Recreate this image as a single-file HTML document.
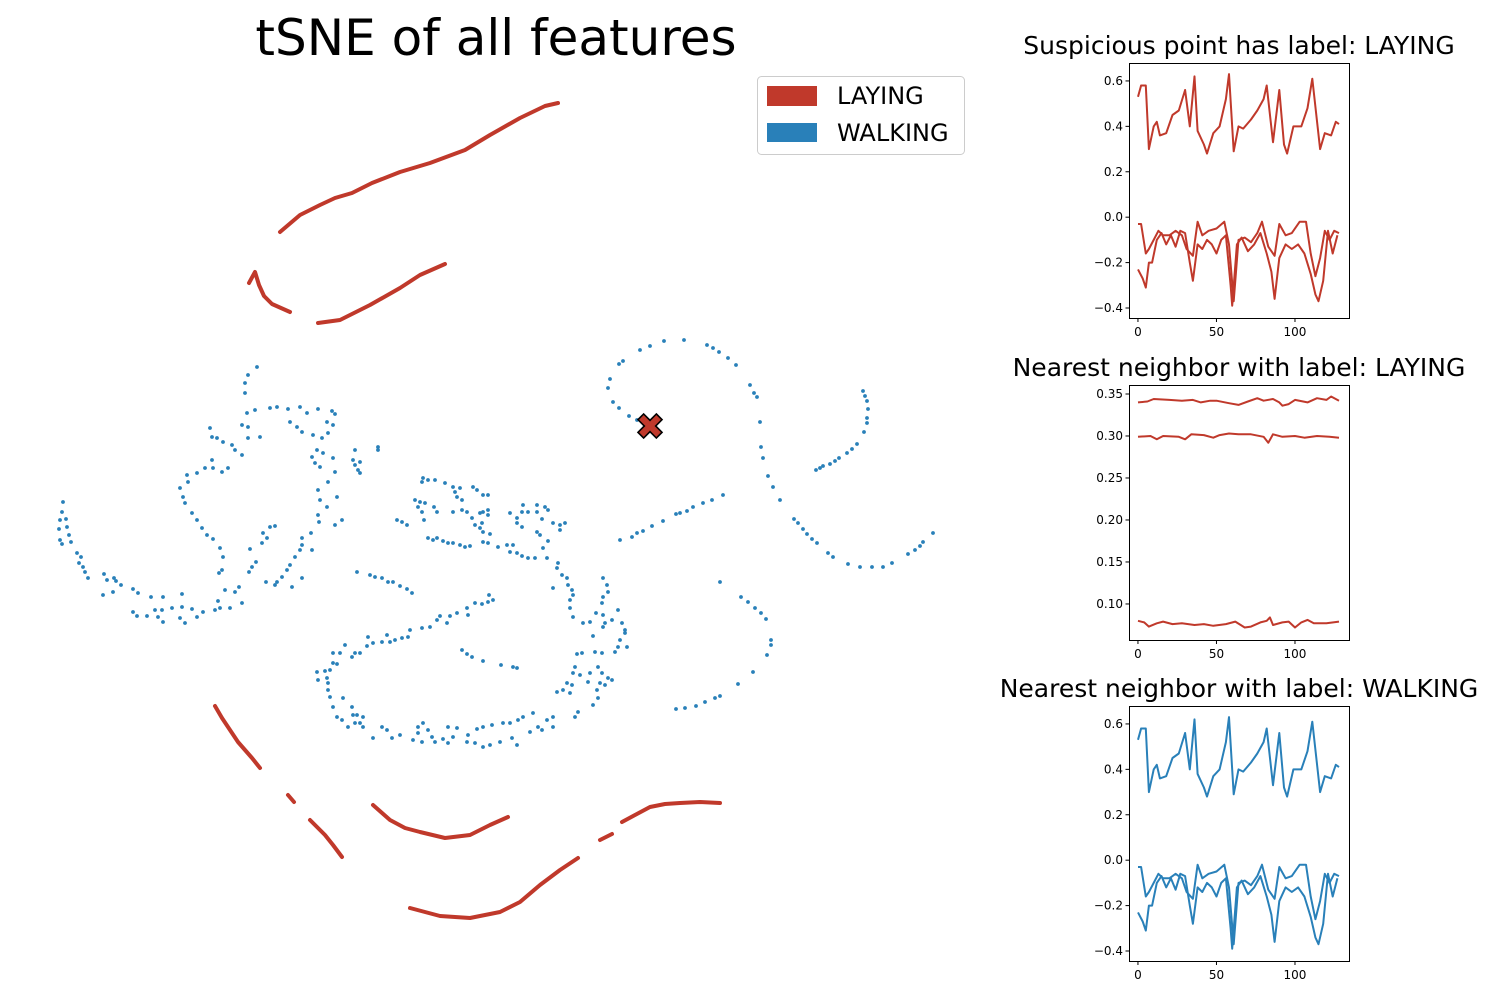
<!DOCTYPE html>
<html><head><meta charset="utf-8"><style>
body{margin:0;background:#fff;}
svg{display:block;font-family:"DejaVu Sans","Liberation Sans",sans-serif;}
</style></head><body>
<svg id="fig" width="1500" height="1000" xmlns="http://www.w3.org/2000/svg">
<rect width="1500" height="1000" fill="#fff"/>
<text x="496" y="55" font-size="50" text-anchor="middle">tSNE of all features</text>
<g id="scatter"></g>
<g>
<rect x="757.5" y="76.5" width="207" height="78" rx="4" fill="#fff" stroke="#ccc"/>
<rect x="767" y="86" width="50" height="20" fill="#c0392b"/>
<text x="837" y="104" font-size="24">LAYING</text>
<rect x="767" y="123" width="50" height="19" fill="#2980b9"/>
<text x="837" y="141" font-size="24">WALKING</text>
</g>
<g id="panels"></g>
</svg>
<script>
// ---------- tSNE data (embedding units) ----------
const walkX = [257,248,245,245,247,255,270,277,288,300,307,318,332,335,242,248,290,297,302,327,333,328,313,322,248,260,
210,212,217,223,232,235,242,212,213,222,228,205,197,187,188,180,183,185,192,197,202,207,213,220,223,222,219,
317,323,312,333,315,320,335,328,318,320,327,337,318,319,335,342,311,302,302,300,312,295,290,287,282,277,275,292,302,
270,275,263,267,262,250,256,252,249,266,
63,62,66,60,67,59,69,60,62,71,77,81,79,83,85,88,104,107,114,116,121,103,113,133,138,151,163,182,182,172,162,155,133,137,147,158,163,180,185,192,197,203,215,220,230,242,218,225,235,239,
378,378,355,353,355,358,360,360,357,370,375,382,388,393,400,407,412,397,402,407,
423,422,428,435,445,453,455,460,457,462,473,477,483,488,415,420,425,418,422,434,437,424,453,462,467,472,475,480,483,488,488,482,480,483,490,510,517,522,523,528,537,537,545,548,542,517,522,537,540,548,553,560,565,560,
428,433,437,443,448,453,460,465,470,483,488,498,507,513,510,517,522,528,535,543,547,
558,557,562,567,568,572,553,573,570,570,573,583,590,593,596,603,603,607,608,603,602,618,612,605,603,622,625,625,620,618,615,627,577,582,595,602,575,573,580,590,598,602,608,612,567,572,588,597,600,605,557,563,570,598,593,578,575,
553,547,553,542,533,523,518,510,503,492,483,477,468,467,475,483,490,500,512,517,530,538,
457,448,453,448,443,435,432,428,423,418,418,422,413,400,392,387,382,373,363,360,355,348,342,353,337,333,343,352,357,363,
330,328,328,327,318,317,325,330,333,337,333,340,345,352,355,360,
367,368,373,382,387,390,395,402,408,410,422,430,437,440,447,450,457,467,468,475,482,488,493,489,
462,467,472,483,501,513,517,
620,632,637,643,652,663,676,680,687,693,703,712,723,
619,623,640,650,664,684,707,713,719,728,736,750,754,757,760,761,763,768,773,780,794,798,803,807,812,817,828,833,848,860,872,883,892,908,915,920,923,933,
610,608,613,619,629,637,
863,865,867,868,867,867,864,857,852,847,839,835,830,823,820,816,
720,741,748,755,761,766,771,771,767,753,738,720,715,705,696,685,676];
const walkY = [367,375,383,393,413,410,408,407,409,407,413,409,411,414,425,427,422,427,432,422,425,433,435,438,438,437,
428,437,438,442,445,450,455,460,468,472,468,468,473,475,482,488,497,503,513,520,528,535,539,548,557,570,573,
450,453,457,458,463,467,472,482,490,500,507,497,515,522,525,520,533,538,545,550,550,557,565,570,577,582,585,587,578,
527,526,533,538,543,549,562,567,572,582,
502,512,519,520,527,529,535,540,544,542,553,557,563,567,572,578,574,580,578,581,585,595,592,589,593,597,597,594,607,608,610,610,612,616,616,617,622,618,623,609,617,612,610,608,608,603,601,590,592,587,
447,450,450,460,465,470,473,462,572,575,577,578,582,582,586,589,593,520,522,525,
478,482,480,480,483,487,492,488,497,500,487,490,495,495,500,502,503,507,512,507,512,520,512,510,512,518,525,513,512,510,515,523,528,532,534,513,518,512,505,512,505,512,507,510,519,523,527,532,535,541,523,525,523,530,
538,540,538,541,543,543,545,547,546,542,543,547,545,545,552,553,556,558,558,548,558,
563,568,575,578,585,590,588,595,600,608,617,623,622,636,613,615,578,585,592,597,603,610,620,623,627,623,630,633,640,647,652,647,654,653,652,653,667,673,675,673,667,673,678,680,683,685,682,690,683,685,692,690,693,698,705,712,717,
717,720,727,730,713,717,720,723,723,725,727,729,735,742,743,747,745,742,738,745,732,727,
728,727,737,743,739,742,737,730,723,727,733,742,740,735,738,730,727,738,727,723,723,727,720,715,717,707,698,707,715,717,
697,690,683,678,680,672,671,670,663,664,653,653,645,657,653,653,
646,637,643,642,635,642,640,638,637,630,628,627,620,616,623,616,613,608,615,603,604,602,600,595,
650,654,657,661,665,667,668,
540,537,533,531,526,521,514,513,511,507,503,500,495,
364,361,350,346,341,340,345,348,352,358,365,385,393,397,422,447,458,476,487,500,519,523,529,534,539,543,553,557,564,567,567,567,563,554,550,546,542,533,
379,388,402,408,416,420,
391,396,401,409,418,423,432,444,449,453,458,461,464,466,468,470,
582,597,602,608,613,619,640,645,655,672,684,696,698,702,706,708,709];
// LAYING clusters: each segment is a run of points along a band
const laySegX = [
 [280,300,320,335,352,372,400,430,465,490,520,545,558],
 [249,255,259,264,272,290],
 [318,340,370,400,420,445],
 [215,222,230,238,245,252,260],
 [288,294],
 [310,318,325,333,342],
 [373,390,405,420,445,470,490,508],
 [410,440,470,500,520,540,560,578],
 [600,612],
 [622,635,650,665,680,700,720]
];
const laySegY = [
 [232,215,205,198,193,183,172,163,150,135,118,106,103],
 [283,272,285,296,304,312],
 [323,320,305,288,275,264],
 [706,718,730,742,750,758,768],
 [795,802],
 [820,828,835,845,857],
 [805,820,828,832,838,835,825,817],
 [908,916,918,912,902,885,870,858],
 [840,834],
 [822,815,807,804,803,802,803]
];
const crossX = 650, crossY = 426;

const NS = "http://www.w3.org/2000/svg";
function mk(tag, attrs, parent){const e=document.createElementNS(NS,tag);for(const k in attrs)e.setAttribute(k,attrs[k]);parent.appendChild(e);return e;}
// embedding -> pixel axis functions (axes hidden)
const sx = v => 0 + (v - 0) * 1.0;
const sy = v => 0 + (v - 0) * 1.0;
const sc = document.getElementById('scatter');
for (let s=0; s<laySegX.length; s++){
  const pts = laySegX[s].map((x,i)=>sx(x)+','+sy(laySegY[s][i])).join(' ');
  const pl = mk('polyline',{points:pts,fill:'none',stroke:'#c0392b','stroke-width':4,'stroke-linecap':'round','stroke-linejoin':'round'},sc);
  
  
}
for (let i=0;i<walkX.length;i++){
  const c = mk('circle',{cx:sx(walkX[i]),cy:sy(walkY[i]),r:1.9,fill:'#2980b9'},sc);
  
  
}
{
  const cx=sx(crossX), cy=sy(crossY);
  const g = mk('g',{transform:`translate(${cx},${cy}) rotate(45)`},sc);
  
  
  mk('path',{d:'M-4,-13 H4 V-4 H13 V4 H4 V13 H-4 V4 H-13 V-4 H-4 Z',fill:'#c0392b',stroke:'#000','stroke-width':1.6},g);
}

// ---------- signal panels ----------
const sigAx = [0,2,5,7,10,12,14,18,22,26,30,33,36,38,42,44,48,52,56,58,61,64,67,72,76,80,82,86,90,93,95,99,104,108,111,116,119,123,126,128];
const sigAy = [.53,.58,.58,.30,.40,.42,.36,.37,.45,.47,.56,.40,.62,.38,.32,.28,.37,.40,.52,.63,.29,.40,.39,.43,.47,.52,.58,.33,.56,.32,.28,.40,.40,.48,.61,.30,.37,.36,.42,.41];
const sigBx = [0,2,5,7,10,13,16,20,24,28,31,35,38,41,45,50,55,58,61,64,68,72,76,79,83,87,90,94,98,103,107,110,113,116,119,122,125,128];
const sigBy = [-.03,-.03,-.16,-.14,-.10,-.06,-.08,-.08,-.06,-.08,-.14,-.17,-.02,-.08,-.06,-.05,-.02,-.12,-.37,-.10,-.09,-.11,-.07,-.02,-.13,-.17,-.03,-.08,-.07,-.02,-.02,-.16,-.26,-.18,-.06,-.10,-.06,-.07];
const sigCx = [0,3,5,7,9,12,15,18,21,24,27,30,33,35,38,41,44,47,50,53,56,59,60,63,66,70,74,78,82,85,87,90,94,98,102,106,110,113,115,118,121,124,127];
const sigCy = [-.23,-.27,-.31,-.20,-.20,-.10,-.07,-.12,-.08,-.13,-.06,-.07,-.20,-.28,-.12,-.14,-.10,-.12,-.16,-.10,-.08,-.30,-.39,-.12,-.09,-.15,-.12,-.07,-.16,-.24,-.36,-.18,-.12,-.14,-.12,-.16,-.25,-.34,-.37,-.28,-.06,-.16,-.08];
const nnAx = [0,6,10,20,28,35,40,46,50,58,64,70,76,80,86,90,92,96,100,108,114,120,123,128];
const nnAy = [.340,.341,.344,.343,.342,.343,.340,.342,.342,.339,.337,.341,.345,.342,.344,.340,.336,.338,.343,.340,.345,.343,.347,.342];
const nnBx = [0,8,12,16,26,30,34,42,48,52,58,64,72,80,83,86,92,100,106,114,122,128];
const nnBy = [.299,.300,.296,.300,.299,.296,.302,.301,.298,.301,.303,.302,.302,.299,.292,.302,.299,.300,.298,.300,.299,.298];
const nnCx = [0,4,7,12,16,22,28,36,42,48,56,62,68,72,78,82,84,86,92,96,100,104,108,112,120,128];
const nnCy = [.080,.078,.073,.077,.079,.076,.077,.075,.076,.074,.076,.079,.072,.073,.078,.080,.084,.075,.078,.079,.072,.078,.081,.077,.077,.079];
const xTicks = [0,50,100];
const yTicksWide = [0.6,0.4,0.2,0.0,-0.2,-0.4];
const yTicksWideLbl = ['0.6','0.4','0.2','0.0','−0.2','−0.4'];
const yTicksNarrow = [0.35,0.30,0.25,0.20,0.15,0.10];
const yTicksNarrowLbl = ['0.35','0.30','0.25','0.20','0.15','0.10'];

const panelDefs = [
 {name:'suspicious-point-panel', title:'Suspicious point has label: LAYING', top:63, ymin:-0.444, ymax:0.679, color:'#c0392b',
  series:[[sigAx,sigAy],[sigBx,sigBy],[sigCx,sigCy]], ticks:yTicksWide, lbls:yTicksWideLbl},
 {name:'laying-neighbor-panel', title:'Nearest neighbor with label: LAYING', top:385, ymin:0.0571, ymax:0.3607, color:'#c0392b',
  series:[[nnAx,nnAy],[nnBx,nnBy],[nnCx,nnCy]], ticks:yTicksNarrow, lbls:yTicksNarrowLbl},
 {name:'walking-neighbor-panel', title:'Nearest neighbor with label: WALKING', top:706, ymin:-0.444, ymax:0.679, color:'#2980b9',
  series:[[sigAx,sigAy],[sigBx,sigBy],[sigCx,sigCy]], ticks:yTicksWide, lbls:yTicksWideLbl}
];
const panels = document.getElementById('panels');
const L=1129, R=1349, H=255, xmin=-5.7, xmax=134.4;
panelDefs.forEach(p=>{
  const g = mk('g',{},panels);
  
  
  const px = v => L + (v-xmin)/(xmax-xmin)*(R-L);
  const py = v => p.top + H - (v-p.ymin)/(p.ymax-p.ymin)*H;
  const t = mk('text',{x:1239,y:p.top-9,'font-size':25,'text-anchor':'middle'},g);
  t.textContent = p.title;
  
  
  p.series.forEach(s=>{
    const pts = s[0].map((x,i)=>px(x).toFixed(1)+','+py(s[1][i]).toFixed(1)).join(' ');
    const l = mk('polyline',{points:pts,fill:'none',stroke:p.color,'stroke-width':2,'stroke-linejoin':'round'},g);
    
    
  });
  const fr = mk('rect',{x:L+0.5,y:p.top+0.5,width:R-L,height:H,fill:'none',stroke:'#000','stroke-width':1},g);
  
  
  xTicks.forEach(v=>{
    const x = px(v);
    mk('line',{x1:x,x2:x,y1:p.top+H+0.5,y2:p.top+H+4,stroke:'#000'},g);
    const tl = mk('text',{x:x,y:p.top+H+18,'font-size':12,'text-anchor':'middle'},g);
    tl.textContent = String(v);
    
    
  });
  p.ticks.forEach((v,i)=>{
    const y = py(v);
    mk('line',{x1:L-3.5,x2:L+0.5,y1:y,y2:y,stroke:'#000'},g);
    const tl = mk('text',{x:L-6,y:y+4,'font-size':12,'text-anchor':'end'},g);
    tl.textContent = p.lbls[i];
    
    
  });
});
</script>
</body></html>
